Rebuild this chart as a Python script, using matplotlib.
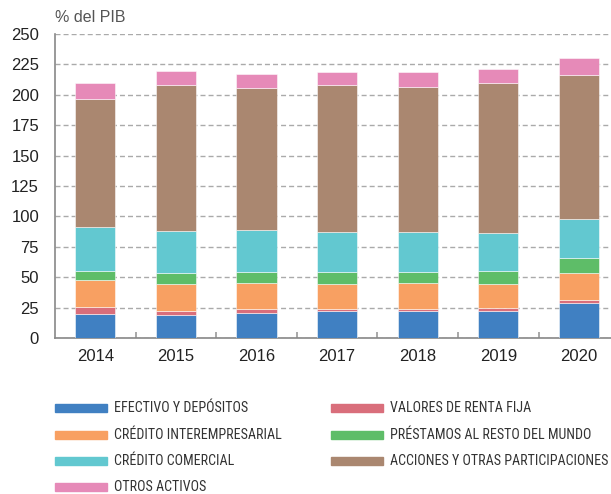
import numpy as np
import matplotlib
matplotlib.use('Agg')
import matplotlib.pyplot as plt
from matplotlib.patches import Rectangle

# Data (% del PIB)
years = ['2014', '2015', '2016', '2017', '2018', '2019', '2020']
efectivo = [20.0, 19.2, 20.8, 22.2, 22.2, 22.5, 28.8]
valores = [5.5, 3.0, 3.0, 1.9, 1.9, 1.9, 2.2]
credito_inter = [22.2, 22.5, 21.4, 20.4, 20.9, 20.0, 22.5]
prestamos = [7.7, 8.8, 9.3, 9.6, 9.3, 10.4, 12.5]
credito_com = [35.6, 34.2, 34.6, 33.4, 32.6, 31.3, 31.6]
acciones = [105.8, 120.3, 116.5, 120.3, 119.8, 123.6, 118.9]
otros = [13.2, 11.8, 11.8, 11.3, 11.8, 11.5, 14.0]

series = [
    ('EFECTIVO Y DEPÓSITOS', efectivo, '#4080c2'),
    ('VALORES DE RENTA FIJA', valores, '#d96e7b'),
    ('CRÉDITO INTEREMPRESARIAL', credito_inter, '#f8a062'),
    ('PRÉSTAMOS AL RESTO DEL MUNDO', prestamos, '#5ebd68'),
    ('CRÉDITO COMERCIAL', credito_com, '#62c8d0'),
    ('ACCIONES Y OTRAS PARTICIPACIONES', acciones, '#aa8770'),
    ('OTROS ACTIVOS', otros, '#e68ab8'),
]

plt.rcParams['font.family'] = ['Liberation Sans', 'DejaVu Sans']

W, H = 611, 494
fig = plt.figure(figsize=(W / 100, H / 100), dpi=100)
ax = fig.add_axes([55 / W, 1 - 338 / H, (W - 55) / W, (338 - 34) / H])

x = np.arange(len(years))
bottom = np.zeros(len(years))
for name, vals, color in series:
    ax.bar(x, vals, width=0.5, bottom=bottom, color=color,
           edgecolor=(1, 1, 1, 0.6), linewidth=0.6, zorder=3)
    bottom += np.array(vals)

ax.set_ylim(0, 250)
ax.set_xlim(-0.5, 6.398)
ax.set_yticks(np.arange(0, 251, 25))
ax.set_xticks(x)
ax.set_xticklabels(years)
ax.set_xticks(np.arange(0.5, 6.5, 1), minor=True)
ax.tick_params(axis='x', which='major', length=0, pad=8, labelsize=12, labelcolor='#222222')
ax.tick_params(axis='x', which='minor', length=4, direction='in', color='#999999', width=1.2)
ax.tick_params(axis='y', length=0, pad=11.5, labelsize=12, labelcolor='#222222')

ax.yaxis.grid(True, linestyle=(0, (3.6, 2.2)), color='#aaaaaa', linewidth=1.0, zorder=0)
ax.set_axisbelow(True)
for s in ['top', 'right']:
    ax.spines[s].set_visible(False)
for s in ['left', 'bottom']:
    ax.spines[s].set_color('#888888')
    ax.spines[s].set_linewidth(1.2)

fig.text(55 / W, 1 - 18 / H, '% del PIB', fontsize=11.5, color='#555555',
         ha='left', va='center')

# legend drawn manually in figure pixels (two columns, row-major order)
rows_y = [408, 435, 461, 487]
cols_x = [55, 331]
for i, (name, vals, color) in enumerate(series):
    r, c = divmod(i, 2)
    y = rows_y[r]
    x0 = cols_x[c]
    fig.add_artist(Rectangle((x0 / W, 1 - (y + 4) / H), 52 / W, 8 / H,
                             transform=fig.transFigure, color=color))
    fig.text((x0 + 59) / W, 1 - y / H, name, fontsize=10.1, color='#333333',
             ha='left', va='center',
             family=['Roboto Condensed', 'DejaVu Sans'])

fig.savefig('out.png', dpi=100)
